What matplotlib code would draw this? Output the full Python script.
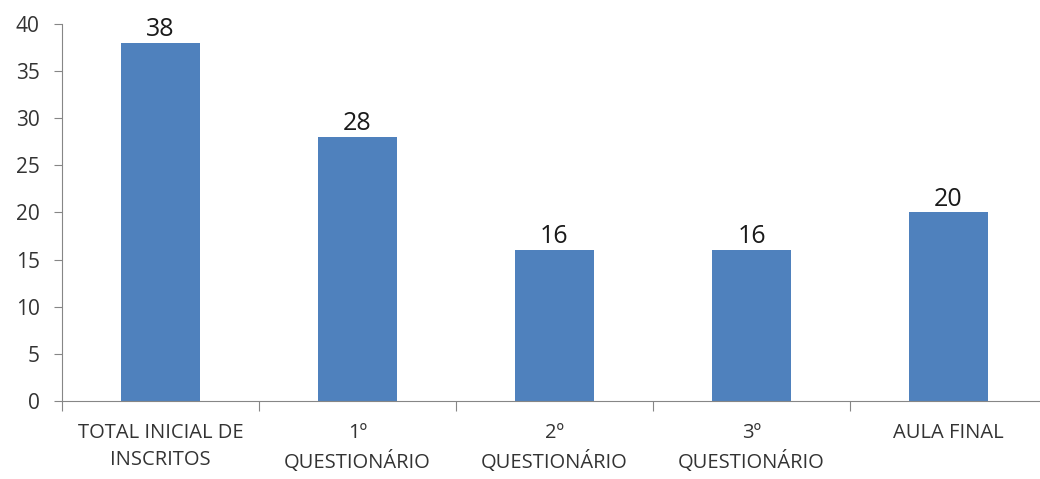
import matplotlib.pyplot as plt
import numpy as np

categories = ['TOTAL INICIAL DE\nINSCRITOS', '1º\nQUESTIONÁRIO', '2º\nQUESTIONÁRIO',
              '3º\nQUESTIONÁRIO', 'AULA FINAL']
values = [38, 28, 16, 16, 20]
yticks = [0, 5, 10, 15, 20, 25, 30, 35, 40]

plt.rcParams['font.family'] = ['Open Sans', 'DejaVu Sans']

fig = plt.figure(figsize=(10.4, 4.79), dpi=100)
# axis runs slightly past the right edge, like the original
ax = fig.add_axes([62 / 1040, 78 / 479, 985 / 1040, 377 / 479])

x = np.arange(len(categories))
bars = ax.bar(x, values, width=0.4, color='#4F81BD')

for xi, v in zip(x, values):
    ax.text(xi, v + 0.1, str(v), ha='center', va='bottom', fontsize=18, color='#1a1a1a')

ax.set_xlim(-0.5, len(categories) - 0.5)
ax.set_ylim(0, 40)
ax.set_yticks(yticks)
ax.tick_params(axis='y', labelsize=15, colors='#868686', labelcolor='#333333',
               length=6, pad=10)

# category boundary ticks on x axis
ax.set_xticks(np.arange(len(categories) + 1) - 0.5)
ax.set_xticklabels([])
ax.set_xticks(x, minor=True)
ax.set_xticklabels(categories, minor=True, fontsize=14.5, color='#333333', linespacing=1.45)
ax.tick_params(axis='x', which='major', length=7, colors='#868686')
ax.tick_params(axis='x', which='minor', length=0, pad=16)

for s in ['top', 'right']:
    ax.spines[s].set_visible(False)
for s in ['left', 'bottom']:
    ax.spines[s].set_color('#868686')

fig.savefig('out.png', dpi=100)
